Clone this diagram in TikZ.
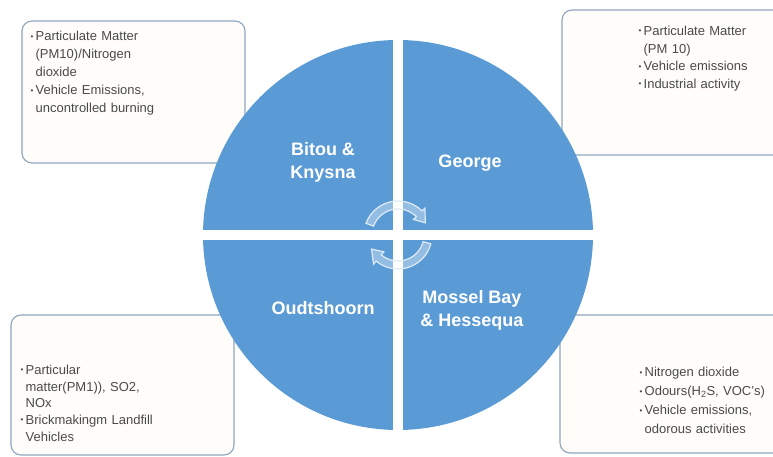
\documentclass[tikz,border=0pt]{standalone}
\usepackage{fontspec}
\setmainfont{Liberation Sans}
\usetikzlibrary{arrows.meta, positioning}

\definecolor{wheelblue}{HTML}{5B9BD5}
\definecolor{boxline}{HTML}{8EA4BE}
\definecolor{boxfill}{HTML}{FFFDF9}
\definecolor{listgray}{HTML}{4A4A4A}

% one bullet point with hanging lines
\newcommand{\bul}[1]{\par\hangindent=5pt\hangafter=1\noindent\makebox[5pt][l]{\raisebox{1.5pt}{\fontsize{8}{8}\selectfont\textbullet}}#1\par}

\tikzset{
  panel/.style={draw=boxline, line width=1.1pt, fill=boxfill, rounded corners=10pt,
                minimum width=223pt, inner sep=0pt},
  listtext/.style={text=listgray, align=left, inner sep=0pt, anchor=north west,
                   text width=150pt, font=\fontsize{13}{#1}\selectfont},
  listtext/.default=17.5pt,
  region/.style={text=white, align=center, inner sep=0pt,
                 font=\fontsize{18}{23}\selectfont\bfseries},
  gap/.style={white, line width=10pt},
  cyclearrow/.style={fill=white, fill opacity=0.35, draw=white!80!wheelblue, line width=1.2pt}
}

\begin{document}
\begin{tikzpicture}[x=1pt, y=1pt]
            \useasboundingbox (0,0) rectangle (773,457);

            % side panels
            \node (tlbox) [panel, minimum height=142pt] at (133.5,365) {};
            \node (trbox) [panel, minimum height=145pt] at (673.5,374.5) {};
            \node (blbox) [panel, minimum height=140pt] at (122.5,72) {};
            \node (brbox) [panel, minimum height=138pt] at (671.5,73) {};

            % the wheel
            \node (wheel) [circle, fill=wheelblue, minimum size=390pt, inner sep=0pt] at (398,222) {};
            \draw[gap] (wheel.north) -- (wheel.south);
            \draw[gap] (wheel.west) -- (wheel.east);

            \node (bitou) [region] at ([shift={(-75,73)}]wheel.center) {Bitou \&\\Knysna};
            \node (george) [region] at ([shift={(72,72)}]wheel.center) {George};
            \node (oudts) [region] at ([shift={(-75,-73)}]wheel.center) {Oudtshoorn};
            \node (mossel) [region] at ([shift={(74,-75)}]wheel.center) {Mossel Bay\\\& Hessequa};

            % cycle arrows
            \begin{scope}[shift={(wheel.center)}]
              \filldraw[cyclearrow] (160:34) arc[start angle=160, end angle=45, radius=34]
                -- (45:38) -- (24:30) -- (45:22) -- (45:26)
                arc[start angle=45, end angle=160, radius=26] -- cycle;
              \filldraw[cyclearrow] (-15:34) arc[start angle=-15, end angle=-130, radius=34]
                -- (-130:38) -- (-152:30) -- (-130:22) -- (-130:26)
                arc[start angle=-130, end angle=-15, radius=26] -- cycle;
            \end{scope}

            % panel texts
            \node (tltext) [listtext=18pt] at ([xshift=9pt, yshift=-2pt]tlbox.north west)
              {\bul{Particulate Matter\newline(PM10)/Nitrogen\newline dioxide}\bul{Vehicle Emissions,\newline uncontrolled burning}};
            \node (trtext) [listtext=17.7pt] at ([xshift=77pt, yshift=-8pt]trbox.north west)
              {\bul{Particulate Matter\newline(PM 10)}\bul{Vehicle emissions}\bul{Industrial activity}};
            \node (bltext) [listtext=16.7pt] at ([xshift=10pt, yshift=-43pt]blbox.north west)
              {\bul{Particular\newline matter(PM1)), SO2,\newline NOx}\bul{Brickmakingm Landfill\newline Vehicles}};
            \node (brtext) [listtext=19pt] at ([xshift=80pt, yshift=-43pt]brbox.north west)
              {\bul{Nitrogen dioxide}\bul{Odours(H\textsubscript{2}S, VOC's)}\bul{Vehicle emissions,\newline odorous activities}};
        \end{tikzpicture}
\end{document}
